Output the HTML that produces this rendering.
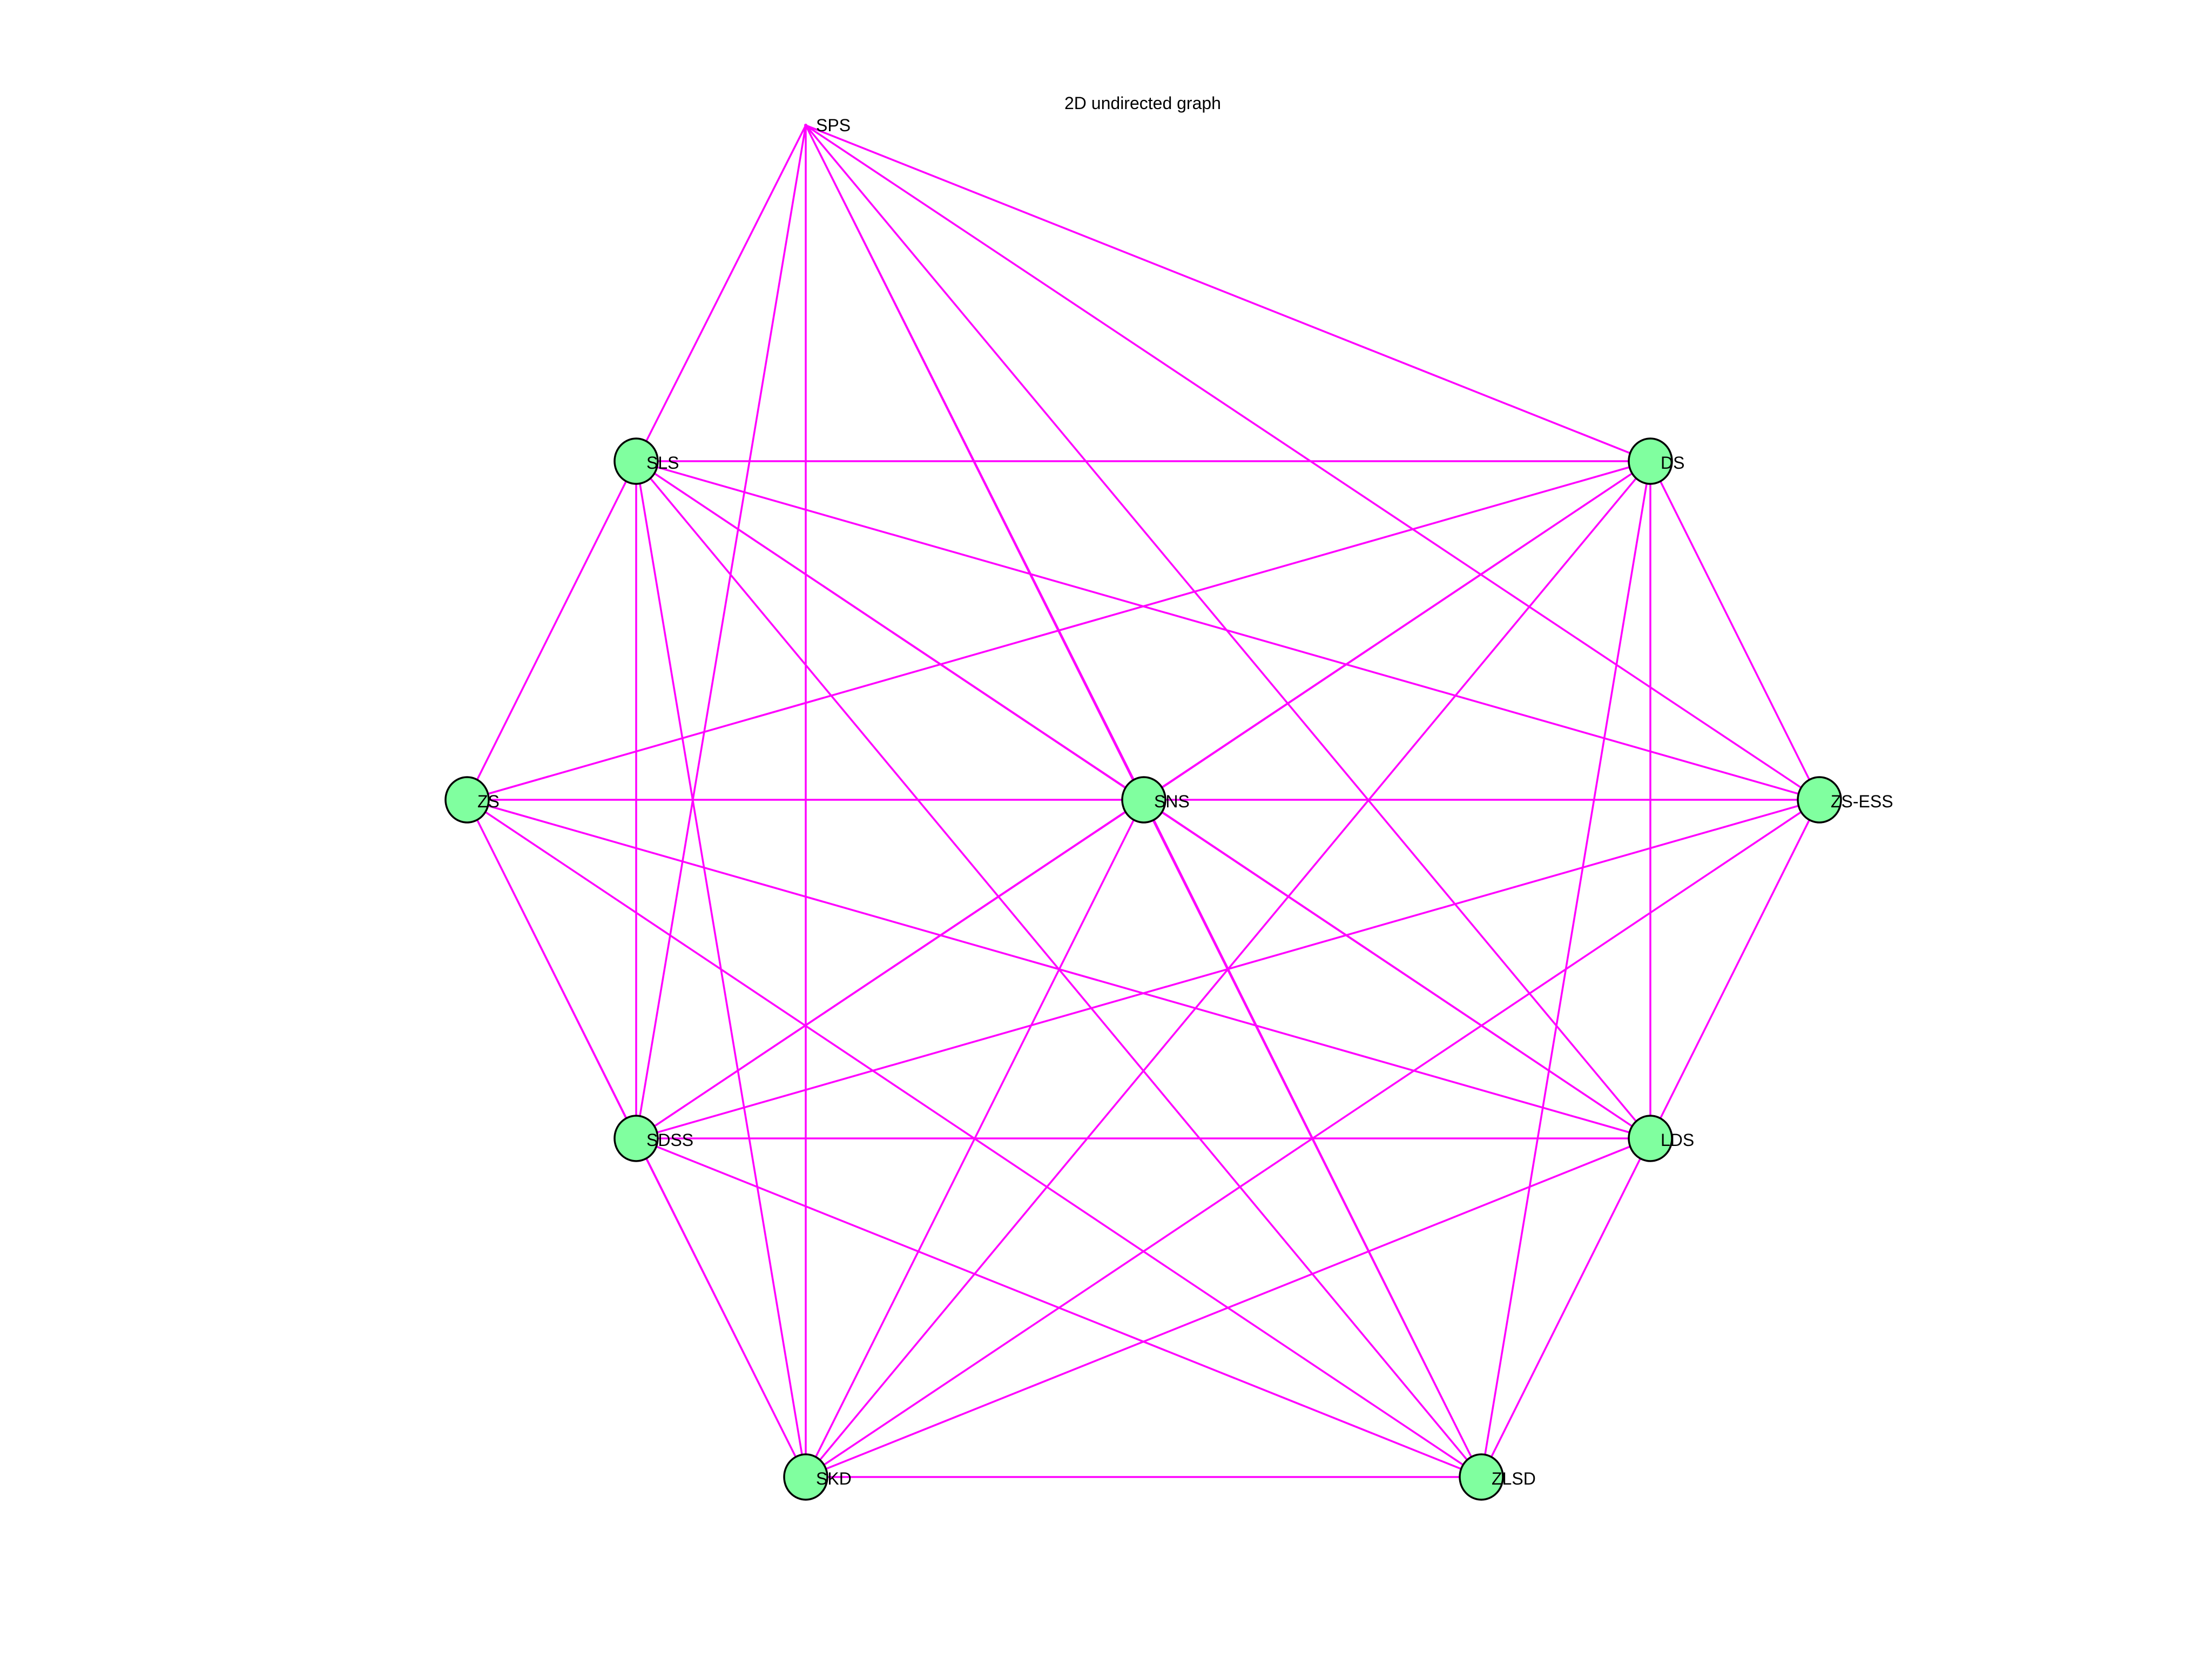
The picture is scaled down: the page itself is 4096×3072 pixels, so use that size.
<!DOCTYPE html>
<html><head><meta charset="utf-8"><style>
html,body{margin:0;padding:0;background:#fff;}
svg{display:block;}
text{font-family:"Liberation Sans",sans-serif;font-size:32px;fill:#000;}
</style></head><body>
<svg width="4096" height="3072" viewBox="0 0 4096 3072" xmlns="http://www.w3.org/2000/svg">
<rect width="4096" height="3072" fill="#fff"/>
<path fill="none" stroke="#ff00ff" stroke-width="3.5" d="
M1492 232 L1178 854 M1492 232 L3056 854 M1492 232 L2118 1481 M1492 232 L3369 1481 M1492 232 L1178 2108 M1492 232 L3056 2108 M1492 232 L1492 2735 M1492 232 L2743 2735
M1178 854 L3056 854 M1178 854 L865 1481 M1178 854 L2118 1481 M1178 854 L3369 1481 M1178 854 L1178 2108 M1178 854 L3056 2108 M1178 854 L1492 2735 M1178 854 L2743 2735
M3056 854 L865 1481 M3056 854 L2118 1481 M3056 854 L3369 1481 M3056 854 L1178 2108 M3056 854 L3056 2108 M3056 854 L1492 2735 M3056 854 L2743 2735
M865 1481 L2118 1481 M865 1481 L3369 1481 M865 1481 L1178 2108 M865 1481 L3056 2108 M865 1481 L1492 2735 M865 1481 L2743 2735
M2118 1481 L3369 1481 M2118 1481 L1178 2108 M2118 1481 L3056 2108 M2118 1481 L1492 2735 M2118 1481 L2743 2735
M3369 1481 L1178 2108 M3369 1481 L3056 2108 M3369 1481 L1492 2735 M3369 1481 L2743 2735
M1178 2108 L3056 2108 M1178 2108 L1492 2735 M1178 2108 L2743 2735
M3056 2108 L1492 2735 M3056 2108 L2743 2735
M1492 2735 L2743 2735"/>
<g fill="#80ff9f" stroke="#000" stroke-width="3.5">
<ellipse cx="1178" cy="854" rx="40" ry="42"/>
<ellipse cx="3056" cy="854" rx="40" ry="42"/>
<ellipse cx="865" cy="1481" rx="40" ry="42"/>
<ellipse cx="2118" cy="1481" rx="40" ry="42"/>
<ellipse cx="3369" cy="1481" rx="40" ry="42"/>
<ellipse cx="1178" cy="2108" rx="40" ry="42"/>
<ellipse cx="3056" cy="2108" rx="40" ry="42"/>
<ellipse cx="1492" cy="2735" rx="40" ry="42"/>
<ellipse cx="2743" cy="2735" rx="40" ry="42"/>
</g>
<circle cx="1492" cy="232" r="3" fill="#ff00ff"/>
<text x="1511" y="243">SPS</text>
<text x="1197" y="868">SLS</text>
<text x="3075" y="868">DS</text>
<text x="884" y="1495">ZS</text>
<text x="2137" y="1495">SNS</text>
<text x="3390" y="1495">ZS-ESS</text>
<text x="1197" y="2122">SDSS</text>
<text x="3075" y="2122">LDS</text>
<text x="1511" y="2749">SKD</text>
<text x="2762" y="2749">ZLSD</text>
<text x="1971" y="202" style="font-size:32px">2D undirected graph</text>
</svg>
</body></html>
